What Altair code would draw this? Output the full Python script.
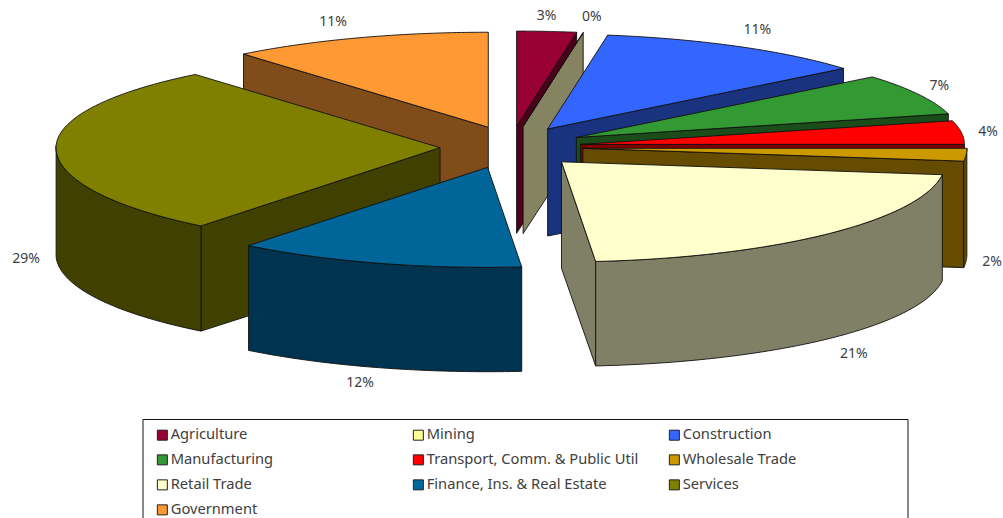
import numpy as np
import altair as alt

# Employment share by sector, in percent
SECTORS = ["Agriculture", "Mining", "Construction", "Manufacturing",
           "Transport, Comm. & Public Util", "Wholesale Trade", "Retail Trade",
           "Finance, Ins. & Real Estate", "Services", "Government"]
SHARES = [3, 0, 11, 7, 4, 2, 21, 12, 29, 11]
TOP_COLORS = ["#990033", "#ffff99", "#3366ff", "#339933", "#ff0000",
              "#cc9900", "#ffffcc", "#006699", "#808000", "#ff9933"]
SIDE_COLORS = ["#4d001a", "#858360", "#1a3380", "#1a4d1a", "#800000",
               "#664c00", "#808066", "#003350", "#404000", "#804c1a"]
# Small corrections so percentage labels clear the slices
LABEL_NUDGE_X = [-3, 3, 4, -6, -3, -4, 5, -18, 0, -15]
LABEL_NUDGE_Y = [0, -1, -4, -2, 1, 2, 5, 0, 5, -2]
# Sideways correction of each slice's exploded position
APEX_SHIFT = [0, 0, 2, 4, 1, 3, 2, -5, 0, 2]

CX, CY = 510, 147       # pie centre
RX = 384                # horizontal radius of the tilted top face
RY_BACK, RY_FRONT = 95, 100   # vertical radius, larger towards the viewer
EX, EY = 70, 21         # explosion of each slice along its mid-angle
DEPTH = 104.5           # extrusion height at the front
DEPTH_GROWTH = 0.02     # walls further back read slightly taller
# Foreshortening of the tilted disc: nominal angle -> drawn angle
WARP_IN = [0, 10.8, 50, 90, 172.8, 180, 216, 320, 360]
WARP_OUT = [0, 9.0, 50, 90, 174.9, 180, 218.5, 320, 360]


def rim(apex, deg):
    t = np.radians(np.interp(deg, WARP_IN, WARP_OUT))
    c = np.cos(t)
    ry = RY_BACK if c > 0 else RY_FRONT
    return apex[0] + RX * np.sin(t), apex[1] - ry * c


def feature(points, face):
    ring = [[float(x), float(y)] for x, y in points]
    ring.append(ring[0])
    return {"type": "Feature", "properties": {"face": face},
            "geometry": {"type": "Polygon", "coordinates": [ring]}}


def drop(points):
    return [(x, y + DEPTH + DEPTH_GROWTH * (260 - y)) for x, y in points]


def slice_faces(name, apex, start, end):
    faces = []
    side = name + " side"
    # radial cut faces, only where they turn towards the viewer
    if 0 < end < 180:
        edge = [apex, rim(apex, end)]
        faces.append(feature(edge + drop(edge)[::-1], side))
    if 180 < start < 360:
        edge = [apex, rim(apex, start)]
        faces.append(feature(edge + drop(edge)[::-1], side))
    # outer wall on the front half of the disc
    lo, hi = max(start, 90), min(end, 270)
    if hi > lo:
        arc = [rim(apex, a) for a in np.linspace(lo, hi, 60)]
        faces.append(feature(arc + drop(arc)[::-1], side))
    # top face
    arc = [rim(apex, a) for a in np.linspace(start, end, 60)]
    faces.append(feature([apex] + arc, name))
    return faces


edges = np.cumsum([0] + SHARES) * 3.6
slices = []
label_rows = []
for i, name in enumerate(SECTORS):
    start, end = edges[i], edges[i + 1]
    mid = np.radians((start + end) / 2)
    apex = (CX + EX * np.sin(mid) + APEX_SHIFT[i], CY - EY * np.cos(mid))
    slices.append((name, apex, start, end))
    x, y = rim(apex, (start + end) / 2)
    if np.cos(mid) < 0:
        y += DEPTH
    label_rows.append({
        "lon": float(x + 30 * np.sin(mid) + LABEL_NUDGE_X[i]),
        "lat": float(y - 15 * np.cos(mid) + LABEL_NUDGE_Y[i]),
        "text": f"{SHARES[i]}%",
    })

# Painter's order: far right slices forward, then left side, nearest last
paint_order = [0, 1, 2, 3, 4, 5, 6, 9, 8, 7]
features = []
for i in paint_order:
    features.extend(slice_faces(*slices[i]))

PROJ = dict(type="identity", scale=1, translate=[0, 0])

pie = alt.Chart(alt.Data(values=features)).mark_geoshape(
    stroke="#111111", strokeWidth=0.9
).encode(
    color=alt.Color(
        "properties.face:N",
        scale=alt.Scale(domain=SECTORS + [s + " side" for s in SECTORS],
                        range=TOP_COLORS + SIDE_COLORS),
        legend=alt.Legend(
            title=None, values=SECTORS, orient="none", legendX=142, legendY=420,
            columns=3, direction="horizontal", gridAlign="all",
            symbolType="square", symbolSize=100, symbolOffset=5.5,
            symbolStrokeColor="#222222", symbolStrokeWidth=1,
            padding=7.5, columnPadding=23, rowPadding=9,
            labelFont="Noto Sans", labelFontSize=14.7,
            labelColor="#404040", labelOffset=1, labelLimit=260,
            symbolOpacity=1,
        ),
    )
).project(**PROJ)

labels = alt.Chart(alt.Data(values=label_rows)).mark_text(
    font="Noto Sans", fontSize=14, color="#404040"
).encode(
    longitude="lon:Q", latitude="lat:Q", text="text:N"
).project(**PROJ)

# Frame around the key; its lower edge runs off the page
frame = alt.Chart(alt.Data(values=[{"frame": "key"}])).mark_rect(
    fill="white", stroke="#111111", strokeWidth=1
).encode(
    x=alt.value(143), x2=alt.value(908), y=alt.value(419.5), y2=alt.value(535)
)

chart = alt.layer(frame, pie, labels).properties(
    width=1003, height=518, padding=0,
    autosize=alt.AutoSizeParams(type="none", contains="padding"),
    background="white",
).configure_view(stroke=None)

chart.save("out.html", embed_options={"renderer": "svg", "actions": False})
